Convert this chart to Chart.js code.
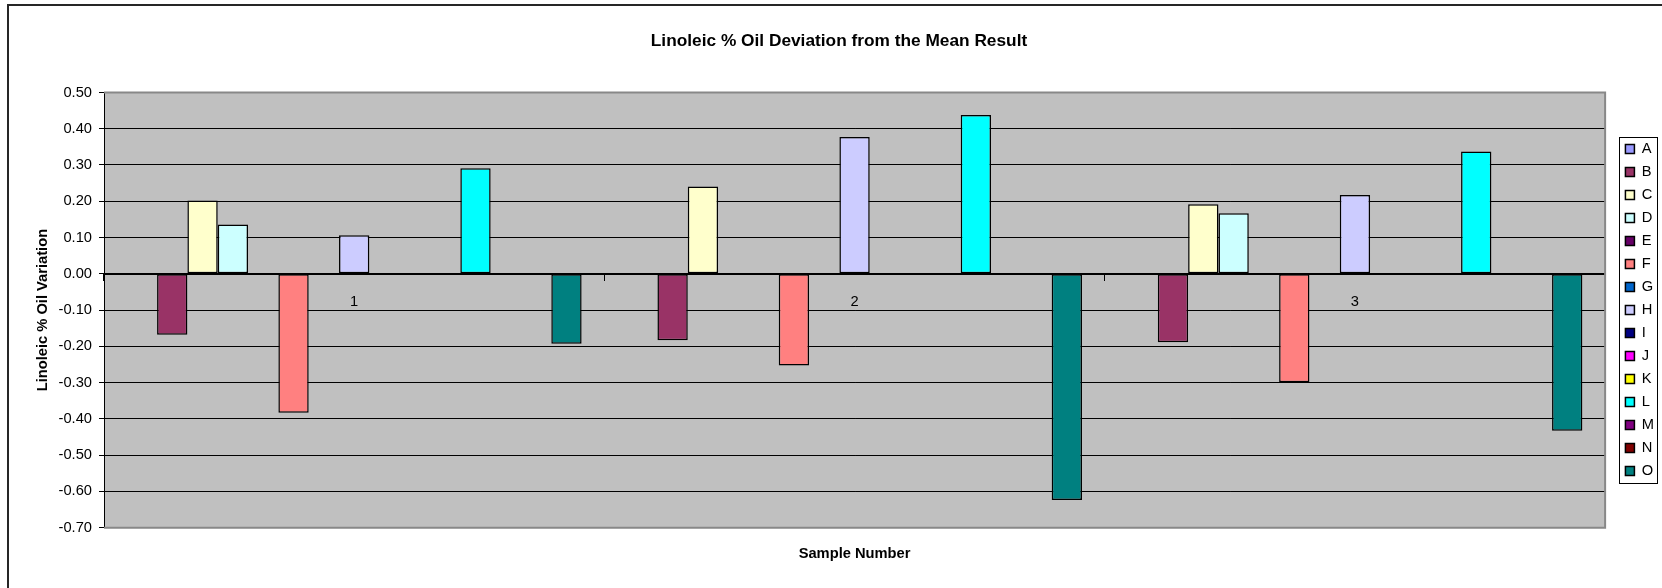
<!DOCTYPE html>
<html>
<head>
<meta charset="utf-8">
<title>Linoleic % Oil Deviation from the Mean Result</title>
<script src="https://cdn.jsdelivr.net/npm/chart.js@4.4.1/dist/chart.umd.min.js"></script>
<style>
  body { margin: 0; background: #fff; overflow: hidden; }
  #wrap { position: relative; width: 1662px; height: 588px; }
  #frame { position: absolute; left: 7px; top: 4px; width: 1700px; height: 620px;
           border-left: 2px solid #262626; border-top: 2px solid #262626; pointer-events: none; }
  canvas { position: absolute; left: 0; top: 0; }
</style>
</head>
<body>
<div id="wrap">
  <canvas id="oilChart" width="1662" height="588"></canvas>
  <div id="frame"></div>
</div>
<script>
// sample numbers on the category axis
const categories = ["1", "2", "3"];

// one array per lab, values for samples 1..3 (empty labs have no bars)
const valuesA = [null, null, null];
const valuesB = [-0.168, -0.183, -0.189];
const valuesC = [0.202, 0.241, 0.192];
const valuesD = [0.136, -0.003, 0.167];
const valuesE = [null, null, null];
const valuesF = [-0.383, -0.253, -0.299];
const valuesG = [null, null, null];
const valuesH = [0.106, 0.377, 0.217];
const valuesI = [null, null, null];
const valuesJ = [null, null, null];
const valuesK = [null, null, null];
const valuesL = [0.291, 0.438, 0.337];
const valuesM = [null, null, null];
const valuesN = [null, null, null];
const valuesO = [-0.193, -0.624, -0.433];

const seriesNames = ["A", "B", "C", "D", "E", "F", "G", "H", "I", "J", "K", "L", "M", "N", "O"];
const seriesValues = [valuesA, valuesB, valuesC, valuesD, valuesE, valuesF, valuesG, valuesH,
                      valuesI, valuesJ, valuesK, valuesL, valuesM, valuesN, valuesO];

// y axis range and step
const yMin = -0.7;
const yMax = 0.5;
const yStep = 0.1;

const seriesColors = ["#9999FF", "#993366", "#FFFFCC", "#CCFFFF", "#660066", "#FF8080", "#0066CC",
                      "#CCCCFF", "#000080", "#FF00FF", "#FFFF00", "#00FFFF", "#800080", "#800000", "#008080"];

const FONT = "'Liberation Sans', Arial, sans-serif";

// grey plot area, its frame, and the box around the legend
const plotFrame = {
  id: "plotFrame",
  afterLayout(chart) {
    const lg = chart.legend;
    if (!lg) return;
    const shift = chart.chartArea.right + 12 - lg.left;
    lg.left += shift;
    lg.right += shift;
  },
  beforeDraw(chart) {
    const { ctx, chartArea: a } = chart;
    ctx.save();
    ctx.fillStyle = "#c0c0c0";
    ctx.fillRect(a.left, a.top, a.right - a.left, a.bottom - a.top);
    ctx.restore();
  },
  afterDatasetsDraw(chart) {
    const { ctx, chartArea: a } = chart;
    ctx.save();
    ctx.strokeStyle = "#888";
    ctx.lineWidth = 2;
    ctx.beginPath();
    ctx.moveTo(a.left, a.top);
    ctx.lineTo(a.right, a.top);
    ctx.lineTo(a.right, a.bottom);
    ctx.lineTo(a.left, a.bottom);
    ctx.stroke();
    ctx.restore();
  },
  afterDraw(chart) {
    const boxes = chart.legend && chart.legend.legendHitBoxes;
    if (!boxes || !boxes.length) return;
    const first = boxes[0];
    const last = boxes[boxes.length - 1];
    const ctx = chart.ctx;
    ctx.save();
    ctx.strokeStyle = "#000";
    ctx.lineWidth = 1;
    const x = Math.round(first.left - 6) + 0.5;
    const y = Math.round(first.top - 5) + 0.5;
    const h = Math.round(last.top + last.height + 5) - Math.round(first.top - 5);
    ctx.strokeRect(x, y, 38, h);
    ctx.restore();
  },
};

const ctx = document.getElementById("oilChart");
new Chart(ctx, {
  type: "bar",
  data: {
    labels: categories,
    datasets: seriesNames.map(function (name, i) {
      return {
        label: name,
        data: seriesValues[i],
        backgroundColor: seriesColors[i],
        borderColor: "#000",
        borderWidth: 1.5,
        borderSkipped: false,
        categoryPercentage: 15 / 16.5,
        barPercentage: 1,
      };
    }),
  },
  options: {
    responsive: false,
    animation: false,
    devicePixelRatio: 1,
    layout: { padding: { left: 26, right: 10, top: 0, bottom: 0 } },
    scales: {
      y: {
        min: yMin,
        max: yMax,
        afterFit: function (scale) { scale.width = 78; },
        ticks: {
          stepSize: yStep,
          padding: 7,
          color: "#000",
          font: { family: FONT, size: 14.7 },
          callback: function (v) {
            return Math.abs(v) < 1e-9 ? "0.00" : Number(v).toFixed(2);
          },
        },
        grid: { color: "#000", lineWidth: 1, tickLength: 5, tickColor: "#000" },
        border: { display: true, color: "#000", width: 1 },
        title: {
          display: true,
          text: "Linoleic % Oil Variation",
          color: "#000",
          font: { family: FONT, size: 14.7, weight: "bold" },
          padding: { top: 8, bottom: 0 },
        },
      },
      x: {
        position: { y: 0 },
        ticks: {
          color: "#000",
          padding: 13,
          font: { family: FONT, size: 14.7 },
        },
        grid: { display: true, drawOnChartArea: false, tickLength: 6, tickColor: "#000", offset: true },
        border: { display: true, color: "#000", width: 2 },
      },
    },
    plugins: {
      title: {
        display: true,
        text: "Linoleic % Oil Deviation from the Mean Result",
        color: "#000",
        font: { family: FONT, size: 17.3, weight: "bold" },
        padding: { top: 30.6, bottom: 41.1 },
      },
      subtitle: {
        display: true,
        position: "bottom",
        fullSize: false,
        text: "Sample Number",
        color: "#000",
        font: { family: FONT, size: 14.7, weight: "bold" },
        padding: { top: 17.3, bottom: 25.4 },
      },
      legend: {
        display: true,
        position: "right",
        fullSize: false,
        labels: {
          boxWidth: 9,
          boxHeight: 9,
          padding: 8.3,
          color: "#000",
          font: { family: FONT, size: 14.7 },
        },
      },
      tooltip: { enabled: false },
    },
  },
  plugins: [plotFrame],
});
</script>
</body>
</html>
